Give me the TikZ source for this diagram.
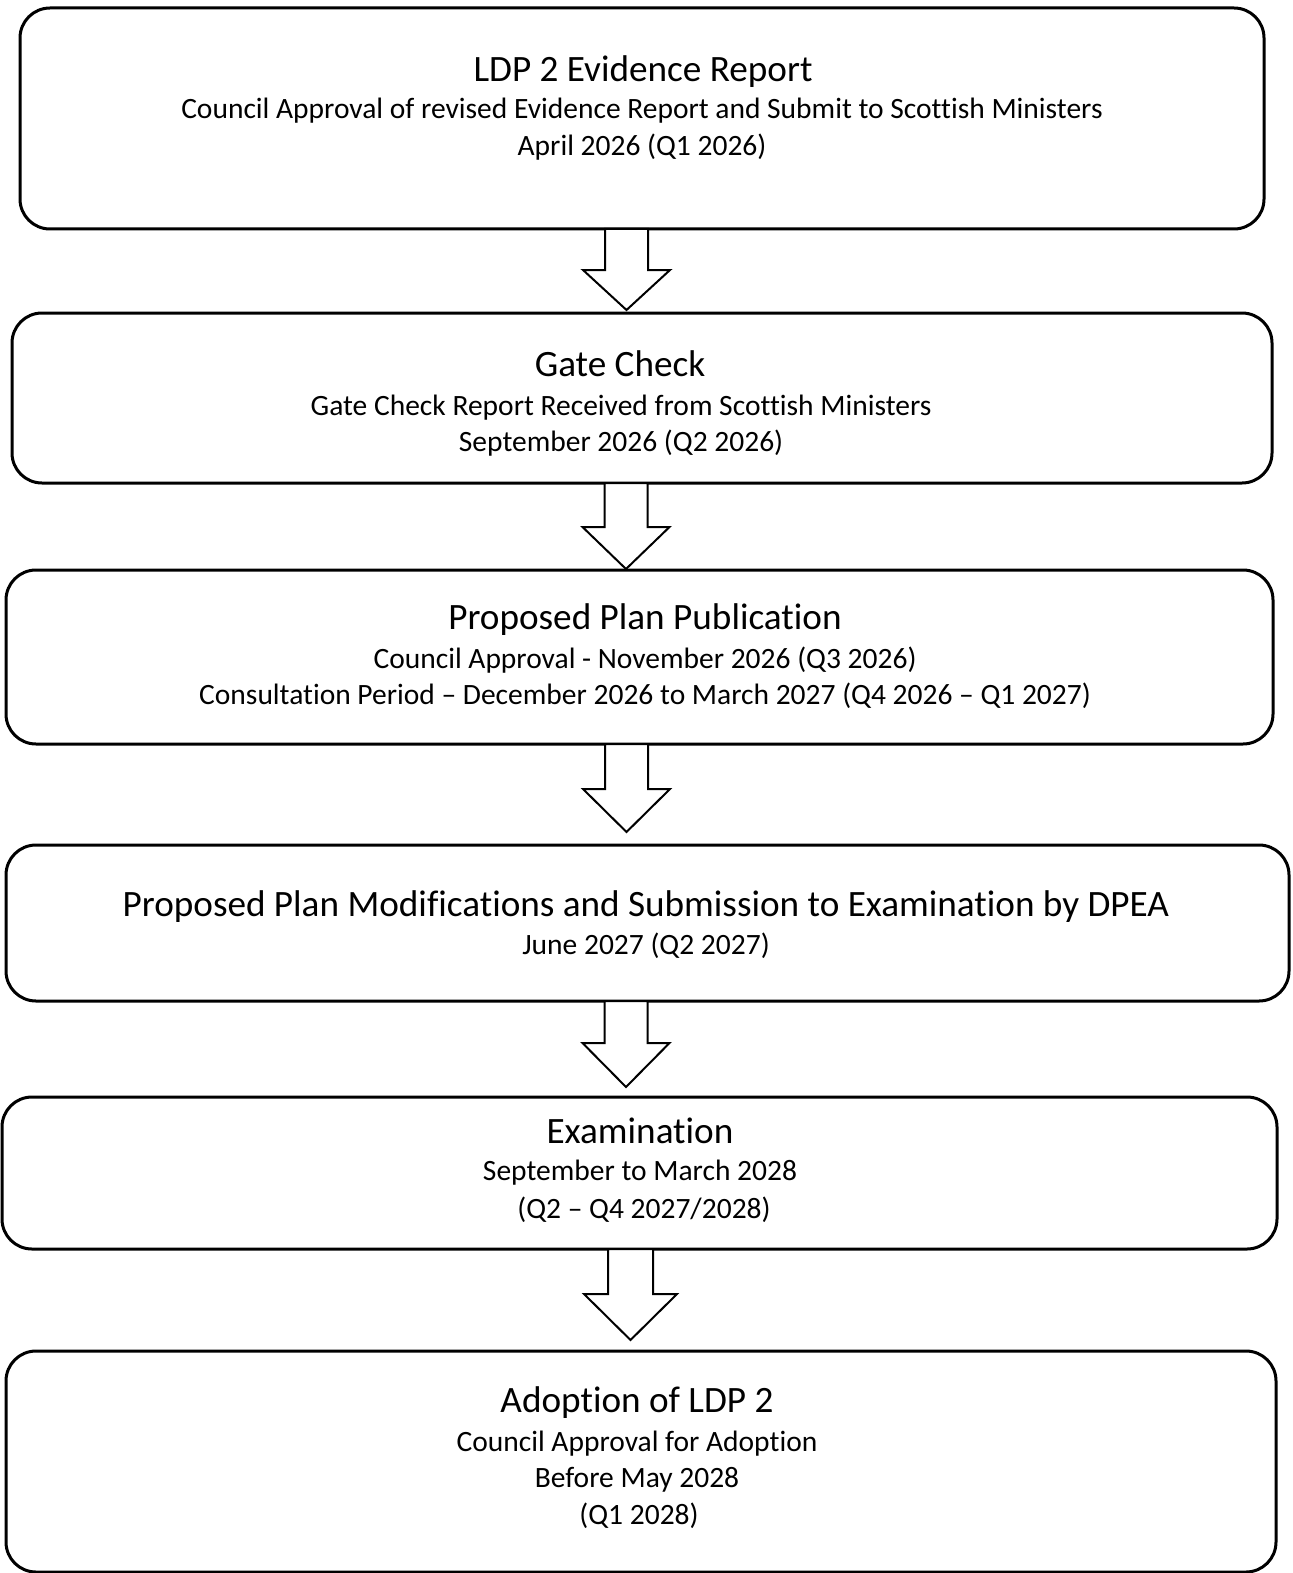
\documentclass[tikz,border=0pt]{standalone}
\usepackage{fontspec}
\setmainfont{Carlito}[Ligatures=NoCommon]
\begin{document}
\begin{tikzpicture}[x=0.5pt,y=-0.5pt,
  box/.style={draw,line width=1.5pt,rounded corners=15pt,inner sep=0pt,outer sep=0pt},
  arr/.style={draw,fill=white,line width=1pt,line join=miter},
  ttl/.style={anchor=base,inner sep=0pt,font=\fontsize{18.6pt}{22pt}\selectfont},
  sub/.style={anchor=base,inner sep=0pt,font=\fontsize{14.75pt}{18pt}\selectfont}]
\useasboundingbox (0,0) rectangle (1293,1573);
% boxes
\node[box,minimum width=622pt,minimum height=110.5pt] (b1) at (642,118.5) {};
\node[box,minimum width=630pt,minimum height=85pt] (b2) at (642,398) {};
\node[box,minimum width=633.5pt,minimum height=87pt] (b3) at (639.5,657) {};
\node[box,minimum width=641.5pt,minimum height=78pt] (b4) at (647.5,923) {};
\node[box,minimum width=637.5pt,minimum height=76pt] (b5) at (639.5,1173) {};
\node[box,minimum width=635pt,minimum height=110.5pt] (b6) at (641,1461.5) {};
% texts
\node[ttl] (t1a) at (643,82) {LDP 2 Evidence Report};
\node[sub] (t1b) at (642,119) {Council Approval of revised Evidence Report and Submit to Scottish Ministers};
\node[sub] (t1c) at (642,156) {April 2026 (Q1 2026)};
\node[ttl] (t2a) at (620,376) {Gate Check};
\node[sub] (t2b) at (621,415) {Gate Check Report Received from Scottish Ministers};
\node[sub] (t2c) at (621,451) {September 2026 (Q2 2026)};
\node[ttl] (t3a) at (645,629) {Proposed Plan Publication};
\node[sub] (t3b) at (645,668) {Council Approval - November 2026 (Q3 2026)};
\node[sub] (t3c) at (645,704) {Consultation Period – December 2026 to March 2027 (Q4 2026 – Q1 2027)};
\node[ttl] (t4a) at (646,916) {Proposed Plan Modifications and Submission to Examination by DPEA};
\node[sub] (t4b) at (646,954) {June 2027 (Q2 2027)};
\node[ttl] (t5a) at (640,1143) {Examination};
\node[sub] (t5b) at (640,1180) {September to March 2028};
\node[sub] (t5c) at (644,1218) {(Q2 – Q4 2027/2028)};
\node[ttl] (t6a) at (637,1412) {Adoption of LDP 2};
\node[sub] (t6b) at (637,1451) {Council Approval for Adoption};
\node[sub] (t6c) at (637,1487) {Before May 2028};
\node[sub] (t6d) at (639,1524) {(Q1 2028)};
% block arrows
\draw[arr] (626.5,0 |- b1.south) ++(-21.5,0) -- ++(0,41) -- ++(-22,0) -- ++(43.5,40) -- ++(43.5,-40) -- ++(-22,0) -- ++(0,-41) -- cycle;
\draw[arr] (626,0 |- b2.south) ++(-21.5,0) -- ++(0,44) -- ++(-22,0) -- ++(43.5,42) -- ++(43.5,-42) -- ++(-22,0) -- ++(0,-44) -- cycle;
\draw[arr] (626.5,0 |- b3.south) ++(-21.5,0) -- ++(0,45) -- ++(-22,0) -- ++(43.5,43) -- ++(43.5,-43) -- ++(-22,0) -- ++(0,-45) -- cycle;
\draw[arr] (626,0 |- b4.south) ++(-21.5,0) -- ++(0,42) -- ++(-22,0) -- ++(43.5,44) -- ++(43.5,-44) -- ++(-22,0) -- ++(0,-42) -- cycle;
\draw[arr] (630.5,0 |- b5.south) ++(-22.5,0) -- ++(0,45) -- ++(-24,0) -- ++(46.5,46) -- ++(46.5,-46) -- ++(-24,0) -- ++(0,-45) -- cycle;
\end{tikzpicture}
\end{document}
